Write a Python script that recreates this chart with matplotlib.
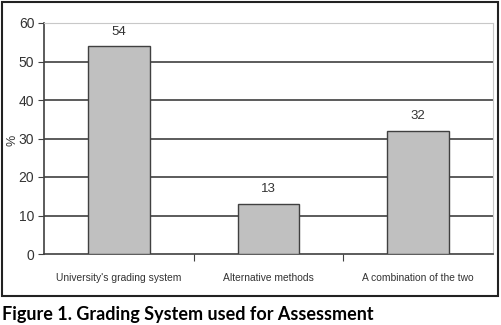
import matplotlib.pyplot as plt
from matplotlib.patches import Rectangle

categories = ["University's grading system", "Alternative methods", "A combination of the two"]
values = [54, 13, 32]
yticks = [0, 10, 20, 30, 40, 50, 60]

narrow = ['Liberation Sans Narrow', 'Liberation Sans', 'DejaVu Sans']

fig = plt.figure(figsize=(5.01, 3.25), dpi=100)
W, H = 501, 325
ax = fig.add_axes([44 / W, 1 - 254 / H, 449 / W, 231 / H])

x = range(len(categories))
bars = ax.bar(x, values, width=0.41, color='#c0c0c0', edgecolor='#404040', linewidth=1.0, zorder=3)
for b, v in zip(bars, values):
    ax.text(b.get_x() + b.get_width() / 2, v + 2.2, str(v), ha='center', va='bottom',
            fontsize=9.5, family=narrow, color='#333333')

ax.set_xlim(-0.5, 2.5)
ax.set_ylim(0, 60)
ax.set_yticks(yticks)
ax.set_yticklabels([str(t) for t in yticks], family=narrow, fontsize=10, color='#333333')
for t in yticks[1:-1]:
    ax.axhline(t, color='#404040', linewidth=1.2, zorder=1)

ax.set_xticks([0.5, 1.5], minor=False)
ax.set_xticklabels([])
ax.set_xticks([0, 1, 2], minor=True)
ax.set_xticklabels(categories, minor=True, family=narrow, fontsize=7.4, color='#333333')
ax.tick_params(axis='x', which='minor', length=0, pad=14)
ax.tick_params(axis='x', which='major', length=5, color='#404040', direction='out')
ax.tick_params(axis='y', length=4, color='#404040', pad=3)

ax.spines['left'].set_color('#404040')
ax.spines['bottom'].set_color('#404040')
ax.spines['left'].set_linewidth(1.2)
ax.spines['bottom'].set_linewidth(1.2)
ax.spines['top'].set_color('#c8c8c8')
ax.spines['right'].set_color('#c8c8c8')

fig.text(13 / W, 1 - 140 / H, '%', rotation=90, ha='center', va='center',
         family=narrow, fontsize=9, color='#333333')

fig.patches.append(Rectangle((1.5 / W, 1 - 296 / H), 496 / W, 294.5 / H, transform=fig.transFigure,
                             fill=False, edgecolor='#222222', linewidth=1.5))

fig.text(2 / W, 1 - 320 / H, 'Figure 1. Grading System used for Assessment', ha='left', va='baseline',
         family=['Lato', 'DejaVu Sans'], fontweight='bold', fontsize=13, color='black')

fig.savefig('out.png', dpi=100)
